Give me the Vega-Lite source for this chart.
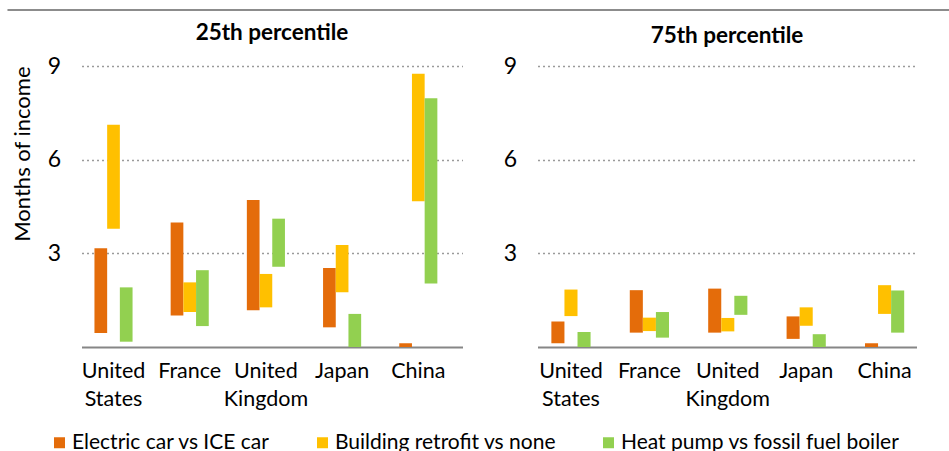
{
  "$schema": "https://vega.github.io/schema/vega-lite/v6.json",
  "padding": {"left": 6, "top": 8, "right": 0, "bottom": 0},
  "background": "white",
  "config": {
    "font": "Lato",
    "view": {"stroke": null},
    "axis": {"labelColor": "#000000", "titleColor": "#000000", "labelFont": "Lato", "titleFont": "Lato"},
    "title": {"font": "Lato", "fontWeight": "bold", "fontSize": 22.5, "color": "#000000", "frame": "group"}
  },
  "data": {"values": [
    {"pct": "25th", "country": "United States", "measure": "Electric car vs ICE car", "low": 0.45, "high": 3.16},
    {"pct": "25th", "country": "United States", "measure": "Building retrofit vs none", "low": 3.79, "high": 7.12},
    {"pct": "25th", "country": "United States", "measure": "Heat pump vs fossil fuel boiler", "low": 0.17, "high": 1.91},
    {"pct": "25th", "country": "France", "measure": "Electric car vs ICE car", "low": 1.01, "high": 3.99},
    {"pct": "25th", "country": "France", "measure": "Building retrofit vs none", "low": 1.12, "high": 2.07},
    {"pct": "25th", "country": "France", "measure": "Heat pump vs fossil fuel boiler", "low": 0.67, "high": 2.46},
    {"pct": "25th", "country": "United Kingdom", "measure": "Electric car vs ICE car", "low": 1.18, "high": 4.71},
    {"pct": "25th", "country": "United Kingdom", "measure": "Building retrofit vs none", "low": 1.27, "high": 2.34},
    {"pct": "25th", "country": "United Kingdom", "measure": "Heat pump vs fossil fuel boiler", "low": 2.57, "high": 4.11},
    {"pct": "25th", "country": "Japan", "measure": "Electric car vs ICE car", "low": 0.63, "high": 2.53},
    {"pct": "25th", "country": "Japan", "measure": "Building retrofit vs none", "low": 1.75, "high": 3.27},
    {"pct": "25th", "country": "Japan", "measure": "Heat pump vs fossil fuel boiler", "low": 0, "high": 1.06},
    {"pct": "25th", "country": "China", "measure": "Electric car vs ICE car", "low": 0, "high": 0.12},
    {"pct": "25th", "country": "China", "measure": "Building retrofit vs none", "low": 4.67, "high": 8.75},
    {"pct": "25th", "country": "China", "measure": "Heat pump vs fossil fuel boiler", "low": 2.03, "high": 7.97},
    {"pct": "75th", "country": "United States", "measure": "Electric car vs ICE car", "low": 0.12, "high": 0.82},
    {"pct": "75th", "country": "United States", "measure": "Building retrofit vs none", "low": 0.99, "high": 1.84},
    {"pct": "75th", "country": "United States", "measure": "Heat pump vs fossil fuel boiler", "low": 0, "high": 0.48},
    {"pct": "75th", "country": "France", "measure": "Electric car vs ICE car", "low": 0.46, "high": 1.82},
    {"pct": "75th", "country": "France", "measure": "Building retrofit vs none", "low": 0.51, "high": 0.94},
    {"pct": "75th", "country": "France", "measure": "Heat pump vs fossil fuel boiler", "low": 0.30, "high": 1.12},
    {"pct": "75th", "country": "United Kingdom", "measure": "Electric car vs ICE car", "low": 0.46, "high": 1.87},
    {"pct": "75th", "country": "United Kingdom", "measure": "Building retrofit vs none", "low": 0.50, "high": 0.93},
    {"pct": "75th", "country": "United Kingdom", "measure": "Heat pump vs fossil fuel boiler", "low": 1.03, "high": 1.64},
    {"pct": "75th", "country": "Japan", "measure": "Electric car vs ICE car", "low": 0.26, "high": 0.98},
    {"pct": "75th", "country": "Japan", "measure": "Building retrofit vs none", "low": 0.68, "high": 1.27},
    {"pct": "75th", "country": "Japan", "measure": "Heat pump vs fossil fuel boiler", "low": 0, "high": 0.41},
    {"pct": "75th", "country": "China", "measure": "Electric car vs ICE car", "low": 0, "high": 0.12},
    {"pct": "75th", "country": "China", "measure": "Building retrofit vs none", "low": 1.06, "high": 1.98},
    {"pct": "75th", "country": "China", "measure": "Heat pump vs fossil fuel boiler", "low": 0.46, "high": 1.81}
  ]},
  "bounds": "full",
  "center": true,
  "spacing": 11,
  "vconcat": [
    {
      "width": 983, "height": 1,
      "mark": {"type": "point", "opacity": 0, "size": 0},
      "encoding": {},
      "view": {"stroke": "#8C8C8C", "strokeWidth": 1}
    },
    {
      "hconcat": [
        {
          "width": 381, "height": 281,
          "title": {"text": "25th percentile", "offset": 10.5},
          "transform": [{"filter": "datum.pct === '25th'"}],
          "mark": {"type": "bar"},
          "encoding": {
            "x": {"field": "country", "type": "nominal", "sort": ["United States", "France", "United Kingdom", "Japan", "China"],
                  "scale": {"paddingInner": 0.5, "paddingOuter": 0.25, "align": 0.34},
                  "axis": {"title": null, "labelAngle": 0, "labelFontSize": 21.5, "labelPadding": 13, "labelLineHeight": 28, "labelExpr": "split(datum.label, ' ')", "ticks": false, "domainColor": "#868686", "domainWidth": 2, "labelBaseline": "top"}},
            "xOffset": {"field": "measure", "type": "nominal", "sort": ["Electric car vs ICE car", "Building retrofit vs none", "Heat pump vs fossil fuel boiler"], "scale": {"paddingInner": 0, "paddingOuter": 0}},
            "y": {"field": "high", "type": "quantitative", "scale": {"domain": [0, 9], "nice": false},
                  "axis": {"values": [3, 6, 9], "grid": true, "gridDash": [2, 3], "gridColor": "#9A9A9A", "gridWidth": 1.6, "domain": false, "ticks": false, "labelFontSize": 23, "labelPadding": 21, "title": "Months of income", "titleFontSize": 22, "titleFontWeight": "normal", "titleAnchor": "end", "titlePadding": 13}},
            "y2": {"field": "low"},
            "color": {"field": "measure", "type": "nominal", "sort": ["Electric car vs ICE car", "Building retrofit vs none", "Heat pump vs fossil fuel boiler"],
                      "scale": {"domain": ["Electric car vs ICE car", "Building retrofit vs none", "Heat pump vs fossil fuel boiler"], "range": ["#E46C0A", "#FFC000", "#92D050"]},
                      "legend": {"title": null, "orient": "none", "legendX": 42, "legendY": 423, "direction": "horizontal", "symbolType": "square", "symbolSize": 121, "labelFontSize": 21, "labelFont": "Lato", "labelLimit": 500, "columnPadding": 42, "labelOffset": 2, "symbolStrokeWidth": 0}}
          }
        },
        {
          "width": 379, "height": 281,
          "title": {"text": "75th percentile", "offset": 7.3},
          "transform": [{"filter": "datum.pct === '75th'"}],
          "mark": {"type": "bar"},
          "encoding": {
            "x": {"field": "country", "type": "nominal", "sort": ["United States", "France", "United Kingdom", "Japan", "China"],
                  "scale": {"paddingInner": 0.5, "paddingOuter": 0.167, "align": 0.53},
                  "axis": {"title": null, "labelAngle": 0, "labelFontSize": 21.5, "labelPadding": 13, "labelLineHeight": 28, "labelExpr": "split(datum.label, ' ')", "ticks": false, "domainColor": "#868686", "domainWidth": 2, "labelBaseline": "top"}},
            "xOffset": {"field": "measure", "type": "nominal", "sort": ["Electric car vs ICE car", "Building retrofit vs none", "Heat pump vs fossil fuel boiler"], "scale": {"paddingInner": 0, "paddingOuter": 0}},
            "y": {"field": "high", "type": "quantitative", "scale": {"domain": [0, 9], "nice": false},
                  "axis": {"values": [3, 6, 9], "grid": true, "gridDash": [2, 3], "gridColor": "#9A9A9A", "gridWidth": 1.6, "domain": false, "ticks": false, "labelFontSize": 23, "labelPadding": 21, "title": null}},
            "y2": {"field": "low"},
            "color": {"field": "measure", "type": "nominal", "sort": ["Electric car vs ICE car", "Building retrofit vs none", "Heat pump vs fossil fuel boiler"],
                      "scale": {"domain": ["Electric car vs ICE car", "Building retrofit vs none", "Heat pump vs fossil fuel boiler"], "range": ["#E46C0A", "#FFC000", "#92D050"]}}
          }
        }
      ],
      "spacing": 40,
      "resolve": {"scale": {"x": "independent", "y": "independent", "xOffset": "independent"}}
    }
  ]
}
